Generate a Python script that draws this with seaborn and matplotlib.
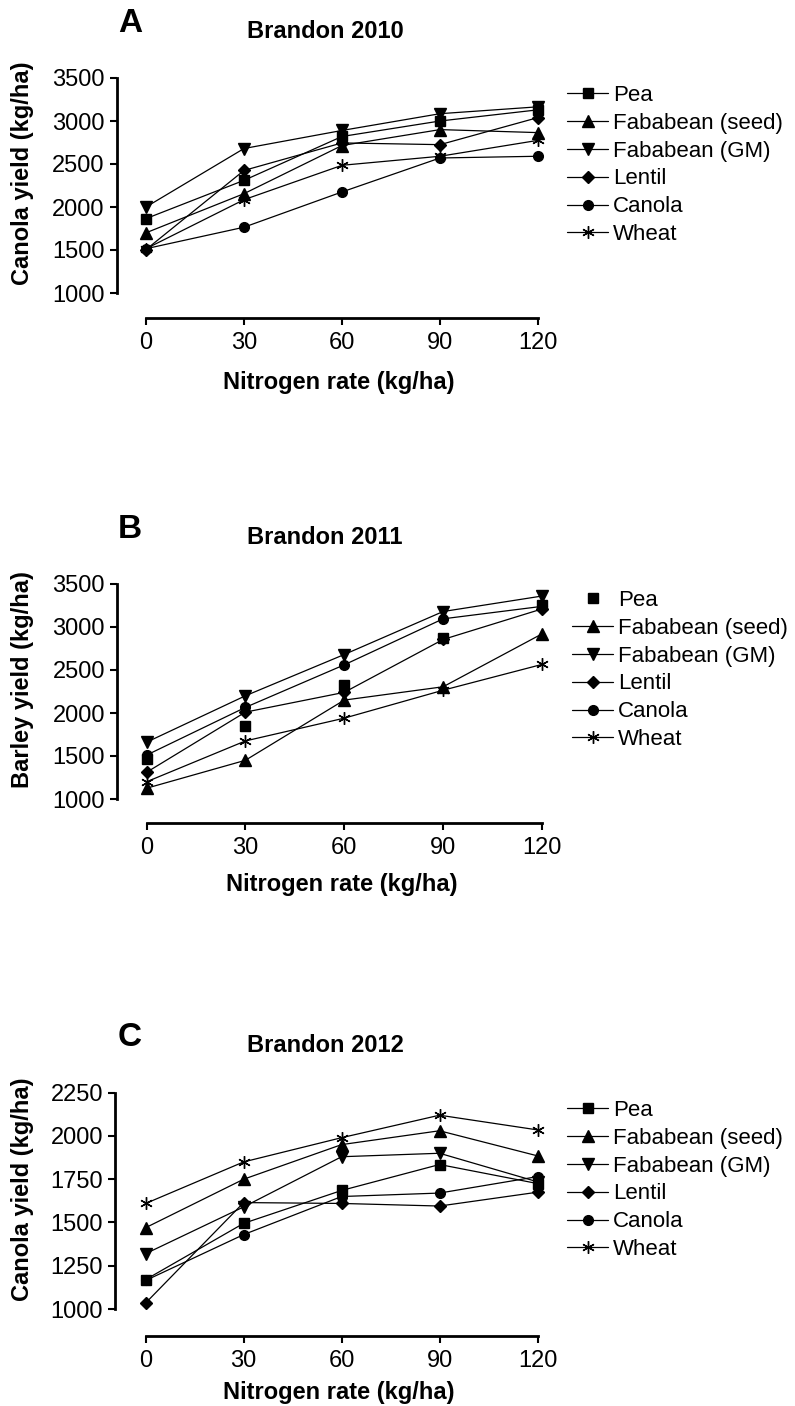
import matplotlib
matplotlib.use('Agg')
import matplotlib.pyplot as plt
import seaborn as sns

# nitrogen rates (kg/ha) and preceding crops
N_RATES = [0, 30, 60, 90, 120]
SERIES = ['Pea', 'Fababean (seed)', 'Fababean (GM)', 'Lentil', 'Canola', 'Wheat']

# Brandon 2010 - canola yield (kg/ha)
pea_2010 = [1865, 2310, 2820, 3000, 3130]
fseed_2010 = [1700, 2155, 2715, 2900, 2865]
fgm_2010 = [2000, 2680, 2890, 3085, 3165]
lentil_2010 = [1505, 2425, 2745, 2725, 3040]
canola_2010 = [1515, 1765, 2175, 2570, 2590]
wheat_2010 = [1515, 2085, 2485, 2590, 2775]

# Brandon 2011 - barley yield (kg/ha)
pea_2011 = [1470, 1845, 2325, 2875, 3260]
fseed_2011 = [1125, 1450, 2150, 2305, 2920]
fgm_2011 = [1660, 2200, 2680, 3180, 3360]
lentil_2011 = [1310, 2010, 2240, 2855, 3210]
canola_2011 = [1510, 2065, 2560, 3095, 3240]
wheat_2011 = [1200, 1675, 1940, 2265, 2565]

# Brandon 2012 - canola yield (kg/ha)
pea_2012 = [1170, 1495, 1685, 1835, 1725]
fseed_2012 = [1470, 1750, 1950, 2030, 1885]
fgm_2012 = [1320, 1590, 1880, 1900, 1735]
lentil_2012 = [1035, 1615, 1610, 1595, 1675]
canola_2012 = [1165, 1430, 1650, 1670, 1765]
wheat_2012 = [1610, 1850, 1990, 2120, 2035]

TICKS_AB = [1000, 1500, 2000, 2500, 3000, 3500]
TICKS_C = [1000, 1250, 1500, 1750, 2000, 2250]

MARKERS = {'Pea': 's', 'Fababean (seed)': '^', 'Fababean (GM)': 'v',
           'Lentil': 'D', 'Canola': 'o', 'Wheat': (6, 2, 0)}
MSIZE = {'Pea': 7, 'Fababean (seed)': 8, 'Fababean (GM)': 8,
         'Lentil': 6, 'Canola': 7, 'Wheat': 9}

W, H = 795, 1406

sns.set_style('ticks')
plt.rcParams['font.family'] = ['Liberation Sans', 'DejaVu Sans']
plt.rcParams.update({'text.color': 'black', 'axes.labelcolor': 'black',
                     'xtick.color': 'black', 'ytick.color': 'black',
                     'axes.edgecolor': 'black'})


def fx(px):
    return px / W


def fy(py):
    return 1 - py / H


def frame(ax, spine_x, x0, x120, ytop, ybot, axis_y, vlo, vhi):
    # place axes so data land on the same pixels as the reference
    sx = (x120 - x0) / 120
    sy = (ybot - ytop) / (vhi - vlo)
    ax.set_position([fx(spine_x), fy(axis_y),
                     fx(x120 + 12) - fx(spine_x), fy(ytop - 8) - fy(axis_y)])
    ax.set_xlim(-(x0 - spine_x) / sx, 120 + 12 / sx)
    ax.set_ylim(vlo - (axis_y - ybot) / sy, vhi + 8 / sy)


def draw_panel(ax, values, yticks, ylabel, pea_line=True):
    for name, vals in zip(SERIES, values):
        ls = '-' if (pea_line or name != 'Pea') else ''
        sns.lineplot(x=N_RATES, y=vals, ax=ax, color='black', linewidth=0.9,
                     linestyle=ls, marker=MARKERS[name], markersize=MSIZE[name],
                     markeredgecolor='black', markeredgewidth=1.0,
                     label=name)
    sns.despine(ax=ax)
    ax.spines['left'].set_bounds(yticks[0], yticks[-1])
    ax.spines['bottom'].set_bounds(0, 120)
    for s in ('left', 'bottom'):
        ax.spines[s].set_linewidth(2)
    ax.set_xticks(N_RATES)
    ax.set_yticks(yticks)
    ax.tick_params(axis='both', direction='out', length=5, width=1.5,
                   labelsize=17, color='black', labelcolor='black')
    ax.tick_params(axis='x', pad=5)
    ax.tick_params(axis='y', pad=3.5)
    ax.set_xlabel('Nitrogen rate (kg/ha)', fontsize=17, fontweight='bold')
    ax.set_ylabel(ylabel, fontsize=17, fontweight='bold')


fig = plt.figure(figsize=(W / 100, H / 100), dpi=100)
axA = fig.add_axes([0.1, 0.1, 0.5, 0.2])
axB = fig.add_axes([0.1, 0.4, 0.5, 0.2])
axC = fig.add_axes([0.1, 0.7, 0.5, 0.2])

panels = [
    (axA, [pea_2010, fseed_2010, fgm_2010, lentil_2010, canola_2010, wheat_2010],
     TICKS_AB, 'Canola yield (kg/ha)', True, 'A', 'Brandon 2010',
     (116.5, 146, 538, 78, 293, 318), 64, 567, 165),
    (axB, [pea_2011, fseed_2011, fgm_2011, lentil_2011, canola_2011, wheat_2011],
     TICKS_AB, 'Barley yield (kg/ha)', False, 'B', 'Brandon 2011',
     (116.7, 146.5, 542, 584, 799, 823), 62, 572, 670),
    (axC, [pea_2012, fseed_2012, fgm_2012, lentil_2012, canola_2012, wheat_2012],
     TICKS_C, 'Canola yield (kg/ha)', True, 'C', 'Brandon 2012',
     (115, 145.7, 537.5, 1092.7, 1309, 1336), 56, 567, 1180),
]

for ax, vals, yt, ylab, pline, letter, title, geo, xl_off, leg_x, leg_y in panels:
    draw_panel(ax, vals, yt, ylab, pline)
    spine_x, x0, x120, ytop, ybot, axis_y = geo
    frame(ax, spine_x, x0, x120, ytop, ybot, axis_y, yt[0], yt[-1])

    ax.yaxis.set_label_coords(fx(23), fy((ytop + ybot) / 2 - 12), transform=fig.transFigure)
    ax.yaxis.label.set(va='center', ha='center')
    ax.xaxis.set_label_coords(fx((x0 + x120) / 2 - 3), fy(axis_y + xl_off), transform=fig.transFigure)
    ax.xaxis.label.set(va='center', ha='center')

    fig.text(fx(130), fy(ytop - 55), letter, fontsize=24, fontweight='bold',
             ha='center', va='center')
    fig.text(fx(325), fy(ytop - 47), title, fontsize=17, fontweight='bold',
             ha='center', va='center')

    ax.legend(loc='center left', bbox_to_anchor=(fx(leg_x), fy(leg_y)),
              bbox_transform=fig.transFigure, frameon=False, fontsize=16,
              borderpad=0, borderaxespad=0, handlelength=1.85,
              handletextpad=0.23, labelspacing=0.31)

fig.savefig('out.png', dpi=100)
